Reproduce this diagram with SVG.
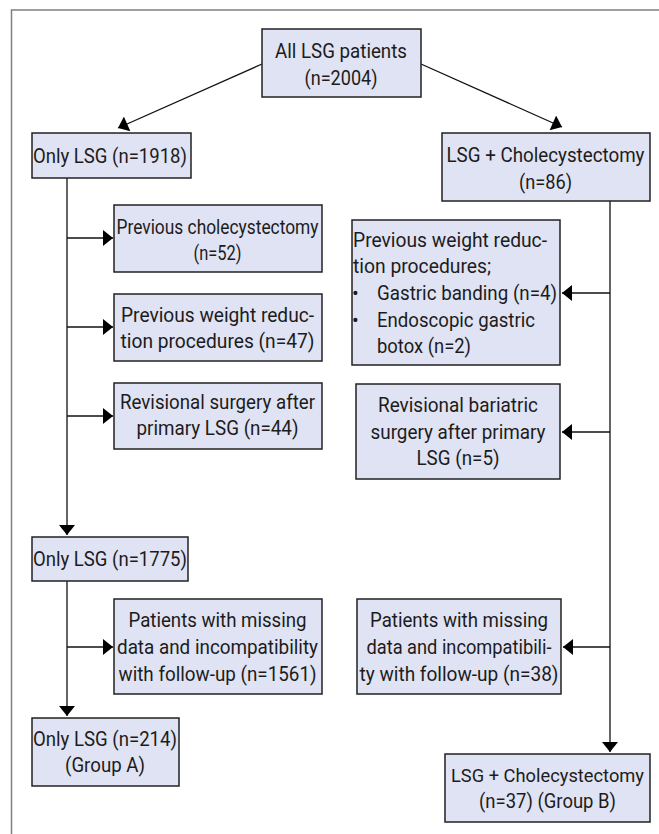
<svg xmlns="http://www.w3.org/2000/svg" width="659" height="834" viewBox="0 0 659 834">
<defs>
<style>
.box{fill:#e0e3f3;stroke:#222;stroke-width:1.5}
.t{font-family:Roboto,"Noto Sans",sans-serif;font-size:20px;fill:#1c1c1c}
.c{text-anchor:middle}
.ln{fill:none;stroke:#111;stroke-width:1.3}
.frame{fill:none;stroke:#808080;stroke-width:1.5}
</style>
<marker id="ah" viewBox="0 0 10 16" refX="10" refY="8" markerWidth="11" markerHeight="16" markerUnits="userSpaceOnUse" orient="auto">
<path d="M0,0 L10,8 L0,16 Z" fill="#000"/>
</marker>
</defs>
<rect width="659" height="834" fill="#fff"/>
<path class="frame" d="M659,10 H11.5 V834"/>

<g id="connectors">
<line class="ln" x1="262" y1="64" x2="118" y2="128" marker-end="url(#ah)"/>
<line class="ln" x1="421" y1="64" x2="562" y2="127" marker-end="url(#ah)"/>
<line class="ln" x1="67" y1="178" x2="67" y2="535" marker-end="url(#ah)"/>
<line class="ln" x1="67" y1="238" x2="113" y2="238" marker-end="url(#ah)"/>
<line class="ln" x1="67" y1="327" x2="113" y2="327" marker-end="url(#ah)"/>
<line class="ln" x1="67" y1="416" x2="113" y2="416" marker-end="url(#ah)"/>
<line class="ln" x1="67" y1="581" x2="67" y2="716" marker-end="url(#ah)"/>
<line class="ln" x1="67" y1="647" x2="113" y2="647" marker-end="url(#ah)"/>
<line class="ln" x1="610" y1="201" x2="610" y2="752" marker-end="url(#ah)"/>
<line class="ln" x1="610" y1="293" x2="562" y2="293" marker-end="url(#ah)"/>
<line class="ln" x1="610" y1="432" x2="562" y2="432" marker-end="url(#ah)"/>
<line class="ln" x1="610" y1="647" x2="563" y2="647" marker-end="url(#ah)"/>
</g>

<g id="all">
<rect class="box" x="262" y="29" width="159" height="68"/>
<text class="t c" x="341" y="58" textLength="132" lengthAdjust="spacingAndGlyphs">All LSG patients</text>
<text class="t c" x="341" y="85" textLength="73" lengthAdjust="spacingAndGlyphs">(n=2004)</text>
</g>

<g id="only1918">
<rect class="box" x="32" y="133" width="159" height="45"/>
<text class="t c" x="110" y="163" textLength="154" lengthAdjust="spacingAndGlyphs">Only LSG (n=1918)</text>
</g>

<g id="lsgchole86">
<rect class="box" x="442" y="133" width="208" height="68"/>
<text class="t c" x="545.5" y="162" textLength="198" lengthAdjust="spacingAndGlyphs">LSG + Cholecystectomy</text>
<text class="t c" x="545.5" y="189" textLength="53" lengthAdjust="spacingAndGlyphs">(n=86)</text>
</g>

<g id="prevchole">
<rect class="box" x="114" y="205" width="208" height="67"/>
<text class="t c" x="217.5" y="234" textLength="202" lengthAdjust="spacingAndGlyphs">Previous cholecystectomy</text>
<text class="t c" x="217.5" y="260" textLength="48" lengthAdjust="spacingAndGlyphs">(n=52)</text>
</g>

<g id="prevweightL">
<rect class="box" x="114" y="294" width="208" height="67"/>
<text class="t c" x="217.5" y="322" textLength="193" lengthAdjust="spacingAndGlyphs">Previous weight reduc-</text>
<text class="t c" x="217.5" y="348" textLength="194" lengthAdjust="spacingAndGlyphs">tion procedures (n=47)</text>
</g>

<g id="revisionalL">
<rect class="box" x="114" y="383" width="208" height="66"/>
<text class="t c" x="217.5" y="409" textLength="195" lengthAdjust="spacingAndGlyphs">Revisional surgery after</text>
<text class="t c" x="217.5" y="435" textLength="162" lengthAdjust="spacingAndGlyphs">primary LSG (n=44)</text>
</g>

<g id="only1775">
<rect class="box" x="32" y="537" width="156" height="44"/>
<text class="t c" x="110" y="566" textLength="154" lengthAdjust="spacingAndGlyphs">Only LSG (n=1775)</text>
</g>

<g id="missingL">
<rect class="box" x="114" y="599" width="208" height="95"/>
<text class="t c" x="217.5" y="627" textLength="178" lengthAdjust="spacingAndGlyphs">Patients with missing</text>
<text class="t c" x="217.5" y="654" textLength="201" lengthAdjust="spacingAndGlyphs">data and incompatibility</text>
<text class="t c" x="217.5" y="681" textLength="198" lengthAdjust="spacingAndGlyphs">with follow-up (n=1561)</text>
</g>

<g id="only214">
<rect class="box" x="32" y="718" width="147" height="68"/>
<text class="t c" x="105" y="746" textLength="144" lengthAdjust="spacingAndGlyphs">Only LSG (n=214)</text>
<text class="t c" x="105" y="772" textLength="80" lengthAdjust="spacingAndGlyphs">(Group A)</text>
</g>

<g id="prevweightR">
<rect class="box" x="352" y="220" width="208" height="145"/>
<text class="t" x="353" y="247" textLength="194" lengthAdjust="spacingAndGlyphs">Previous weight reduc-</text>
<text class="t" x="353" y="273" textLength="138" lengthAdjust="spacingAndGlyphs">tion procedures;</text>
<text class="t" x="352" y="300">•</text>
<text class="t" x="377" y="300" textLength="180" lengthAdjust="spacingAndGlyphs">Gastric banding (n=4)</text>
<text class="t" x="352" y="327">•</text>
<text class="t" x="377" y="327" textLength="158" lengthAdjust="spacingAndGlyphs">Endoscopic gastric</text>
<text class="t" x="377" y="353" textLength="94" lengthAdjust="spacingAndGlyphs">botox (n=2)</text>
</g>

<g id="revisionalR">
<rect class="box" x="356" y="384" width="204" height="95"/>
<text class="t c" x="458" y="412" textLength="160" lengthAdjust="spacingAndGlyphs">Revisional bariatric</text>
<text class="t c" x="458" y="439" textLength="175" lengthAdjust="spacingAndGlyphs">surgery after primary</text>
<text class="t c" x="458" y="465" textLength="83" lengthAdjust="spacingAndGlyphs">LSG (n=5)</text>
</g>

<g id="missingR">
<rect class="box" x="357" y="599" width="204" height="95"/>
<text class="t c" x="459" y="627" textLength="178" lengthAdjust="spacingAndGlyphs">Patients with missing</text>
<text class="t c" x="459" y="654" textLength="185" lengthAdjust="spacingAndGlyphs">data and incompatibili-</text>
<text class="t c" x="459" y="681" textLength="199" lengthAdjust="spacingAndGlyphs">ty with follow-up (n=38)</text>
</g>

<g id="groupB">
<rect class="box" x="445" y="754" width="205" height="68"/>
<text class="t c" x="547.5" y="782" font-size="18.5" textLength="193" lengthAdjust="spacingAndGlyphs" style="font-size:18.5px">LSG + Cholecystectomy</text>
<text class="t c" x="547.5" y="808" textLength="137" lengthAdjust="spacingAndGlyphs">(n=37) (Group B)</text>
</g>
</svg>
